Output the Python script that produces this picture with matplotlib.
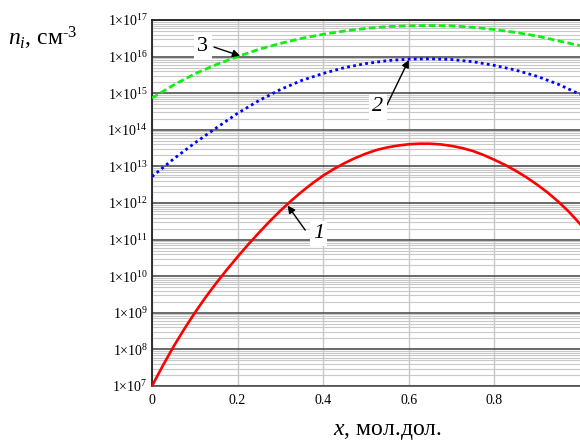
import numpy as np
import matplotlib
matplotlib.use('Agg')
import matplotlib.pyplot as plt
from matplotlib.ticker import FixedLocator, FixedFormatter, NullFormatter

# ---- data (log10 of n_i, cm^-3) ----
x_fine = [0.000, 0.025, 0.050, 0.075, 0.100, 0.125, 0.150, 0.175, 0.200, 0.225,
          0.250, 0.275, 0.300, 0.325, 0.350, 0.375, 0.400, 0.425, 0.450, 0.475,
          0.500, 0.525, 0.550, 0.575, 0.600, 0.625, 0.650, 0.675, 0.700, 0.725,
          0.750, 0.775, 0.800, 0.825, 0.850, 0.875, 0.900, 0.925, 0.950, 0.975,
          1.000]
log_n1 = [7.00, 7.55, 8.07, 8.55, 9.00, 9.42, 9.81, 10.18, 10.53, 10.87,
          11.19, 11.50, 11.79, 12.06, 12.31, 12.54, 12.75, 12.93, 13.09, 13.23,
          13.35, 13.45, 13.52, 13.57, 13.605, 13.62, 13.62, 13.60, 13.56, 13.50,
          13.42, 13.31, 13.18, 13.04, 12.88, 12.70, 12.50, 12.28, 12.03, 11.75,
          11.43]
x_frac = [0.00, 0.05, 0.10, 0.15, 0.20, 0.25, 0.30, 0.35, 0.40, 0.45, 0.50,
          0.55, 0.60, 0.65, 0.70, 0.75, 0.80, 0.85, 0.90, 0.95, 1.00]
log_n2 = [12.72, 13.20, 13.64, 14.05, 14.45, 14.80, 15.10, 15.35, 15.54, 15.70, 15.81,
          15.89, 15.93, 15.94, 15.92, 15.86, 15.76, 15.63, 15.46, 15.24, 14.97]
log_n3 = [14.87, 15.22, 15.53, 15.78, 16.00, 16.20, 16.36, 16.50, 16.61, 16.70, 16.77,
          16.82, 16.84, 16.85, 16.84, 16.80, 16.74, 16.66, 16.56, 16.43, 16.30]
y_decades = list(range(7, 18))
x_ticks = [0.0, 0.2, 0.4, 0.6, 0.8]
x_tick_labels = ['0', '0.2', '0.4', '0.6', '0.8']
curve_labels = ['1', '2', '3']

plt.rcParams['font.family'] = ['Liberation Serif', 'DejaVu Serif']
plt.rcParams['mathtext.fontset'] = 'custom'
plt.rcParams['mathtext.rm'] = 'Liberation Serif'
plt.rcParams['mathtext.it'] = 'Liberation Serif:italic'

W, H = 580, 441
fig = plt.figure(figsize=(W / 100, H / 100), dpi=100)
ax = fig.add_axes([152 / W, 1 - 386 / H, 428 / W, 366 / H])

ax.plot(np.array(x_fine), 10 ** np.array(log_n1), color='#ff0000', lw=1.9,
        zorder=3, solid_joinstyle='round')
ax.plot(np.array(x_frac), 10 ** np.array(log_n2), color='#0000ff', lw=2.0,
        linestyle=(0, (1.0, 1.2)), zorder=3)
ax.plot(np.array(x_frac), 10 ** np.array(log_n3), color='#11ee11', lw=2.0,
        linestyle=(0, (2.4, 1.2)), zorder=3)

ax.set_yscale('log')
ax.set_xlim(0, 1)
ax.set_ylim(10.0 ** y_decades[0], 10.0 ** y_decades[-1])

ax.yaxis.set_major_locator(FixedLocator([10.0 ** d for d in y_decades]))
ax.yaxis.set_major_formatter(FixedFormatter(
    ['1×10$^{%d}$' % d for d in y_decades]))
ax.yaxis.set_minor_locator(FixedLocator(
    [k * 10.0 ** d for d in y_decades[:-1] for k in range(2, 10)]))
ax.yaxis.set_minor_formatter(NullFormatter())
ax.xaxis.set_major_locator(FixedLocator(x_ticks))
ax.xaxis.set_major_formatter(FixedFormatter(x_tick_labels))

ax.tick_params(axis='both', which='both', length=0, labelsize=10)
ax.tick_params(axis='y', pad=3)
ax.tick_params(axis='x', pad=6)

ax.grid(which='minor', axis='y', color='#c8c8c8', lw=0.8)
ax.grid(which='major', axis='y', color='#505050', lw=1.2)
ax.grid(which='major', axis='x', color='#c8c8c8', lw=1.0)
ax.set_axisbelow(True)

for s in ['top', 'left']:
    ax.spines[s].set_color('#202020')
    ax.spines[s].set_linewidth(1.3)
ax.spines['bottom'].set_color('#505050')
ax.spines['bottom'].set_linewidth(1.2)
ax.spines['right'].set_visible(False)

box = dict(boxstyle='square,pad=0.15', fc='white', ec='none')
arrow = dict(arrowstyle='-|>', color='black', lw=1.0, mutation_scale=11,
             shrinkA=0, shrinkB=0)
# curve 3
ax.annotate('', xy=(0.206, 10 ** 16.02), xytext=(0.145, 10 ** 16.26),
            arrowprops=arrow, zorder=5)
ax.text(0.119, 10 ** 16.27, curve_labels[2], fontsize=16, ha='center',
        va='center', bbox=box, zorder=6)
# curve 2
ax.annotate('', xy=(0.600, 10 ** 15.91), xytext=(0.549, 10 ** 14.68),
            arrowprops=arrow, zorder=5)
ax.text(0.528, 10 ** 14.63, curve_labels[1], fontsize=16, style='italic',
        ha='center', va='center', bbox=box, zorder=6)
# curve 1
ax.annotate('', xy=(0.317, 10 ** 11.93), xytext=(0.358, 10 ** 11.26),
            arrowprops=arrow, zorder=5)
ax.text(0.389, 10 ** 11.17, curve_labels[0], fontsize=16, style='italic',
        ha='center', va='center', bbox=box, zorder=6)

fig.text(8 / W, 1 - 45 / H, r'$n_i$, см$^{\text{-3}}$', fontsize=17, ha='left',
         va='baseline')
fig.text(387 / W, 1 - 435 / H, r'$x$, мол.дол.', fontsize=17, ha='center',
         va='baseline')

fig.savefig('out.png', dpi=100)
